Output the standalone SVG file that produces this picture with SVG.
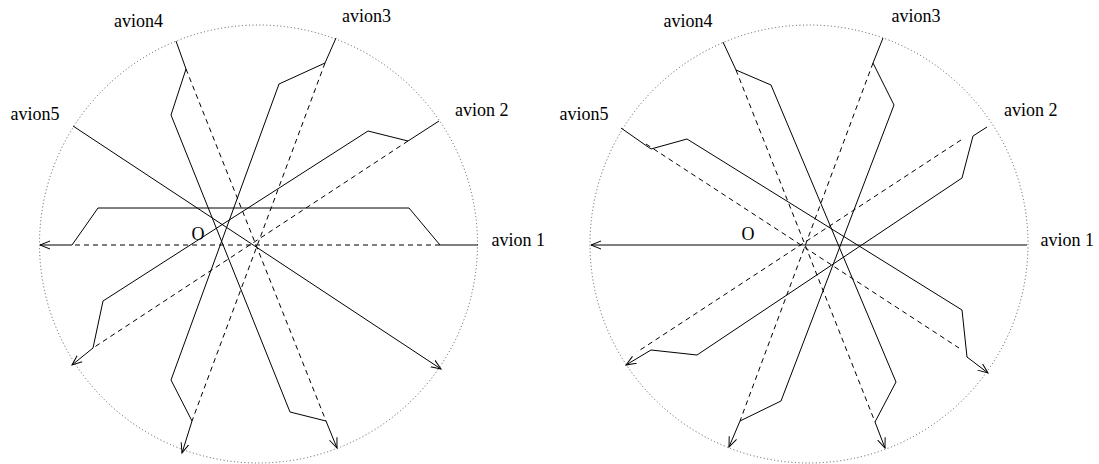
<svg xmlns="http://www.w3.org/2000/svg" width="1099" height="464" viewBox="0 0 1099 464">
<style>
text{font-family:"Liberation Serif","Times New Roman",serif;font-size:18px;fill:#000}
.c{fill:none;stroke:#444;stroke-width:0.9;stroke-dasharray:1 2.5}
.s{fill:none;stroke:#000;stroke-width:1}
.d{fill:none;stroke:#000;stroke-width:1;stroke-dasharray:5 4}
.a{marker-end:url(#arr)}
</style>
<defs>
<marker id="arr" markerUnits="userSpaceOnUse" markerWidth="14" markerHeight="10" refX="10" refY="4" orient="auto" viewBox="0 0 14 8">
<path d="M0,0 L10,4 L0,8" fill="none" stroke="#000" stroke-width="1"/>
</marker>
</defs>
<g id="diagram-left">
<circle id="circleL" class="c" cx="258.5" cy="244" r="219"/>
<g id="labelsL">
<text x="114" y="27">avion4</text>
<text x="342" y="22">avion3</text>
<text x="455" y="116">avion 2</text>
<text x="10.5" y="120">avion5</text>
<text x="491.5" y="246">avion 1</text>
<text x="191.5" y="240">O</text>
</g>
<g id="connectorsL">
<g id="L-avion1"><polyline class="s a" points="478,245 440,245 409,208 98,208 72,245 40,245"/><line class="d" x1="440" y1="245" x2="72" y2="245"/></g>
<g id="L-avion2"><polyline class="s a" points="439,121 408,141 368,131 103,301 93,348 72,365"/><line class="d" x1="408" y1="141" x2="93" y2="348"/></g>
<g id="L-avion3"><polyline class="s a" points="336,38 325,63 279,84 171,380 192,421 182,453"/><line class="d" x1="325" y1="63" x2="192" y2="421"/></g>
<g id="L-avion4"><polyline class="s a" points="176,41 186,69 171,115 290,412 326,421 337,448"/><line class="d" x1="186" y1="69" x2="326" y2="421"/></g>
<g id="L-avion5"><polyline class="s a" points="73,126 441,369"/></g>
</g>
</g>
<g id="diagram-right">
<circle id="circleR" class="c" cx="809" cy="244" r="219"/>
<g id="labelsR">
<text x="663.5" y="27">avion4</text>
<text x="891.5" y="22">avion3</text>
<text x="1004" y="116">avion 2</text>
<text x="559.5" y="120">avion5</text>
<text x="1040.5" y="246">avion 1</text>
<text x="741.5" y="240">O</text>
</g>
<g id="connectorsR">
<g id="R-avion1"><polyline class="s a" points="1027,245 591,245"/></g>
<g id="R-avion2"><polyline class="s a" points="987,127 973,136 962,178 697,355 651,350 626,365"/><line class="d" x1="961" y1="140" x2="637" y2="352"/></g>
<g id="R-avion3"><polyline class="s a" points="883,38 873,63 894,105 781,401 740,421 729,447"/><line class="d" x1="873" y1="63" x2="740" y2="421"/></g>
<g id="R-avion4"><polyline class="s a" points="723,42 736,70 771,85 896,382 875,422 885,448"/><line class="d" x1="736" y1="70" x2="875" y2="422"/></g>
<g id="R-avion5"><polyline class="s a" points="621,128 651,149 687,139 962,310 967,357 988,373"/><line class="d" x1="646" y1="144" x2="959" y2="348"/></g>
</g>
</g>
</svg>
